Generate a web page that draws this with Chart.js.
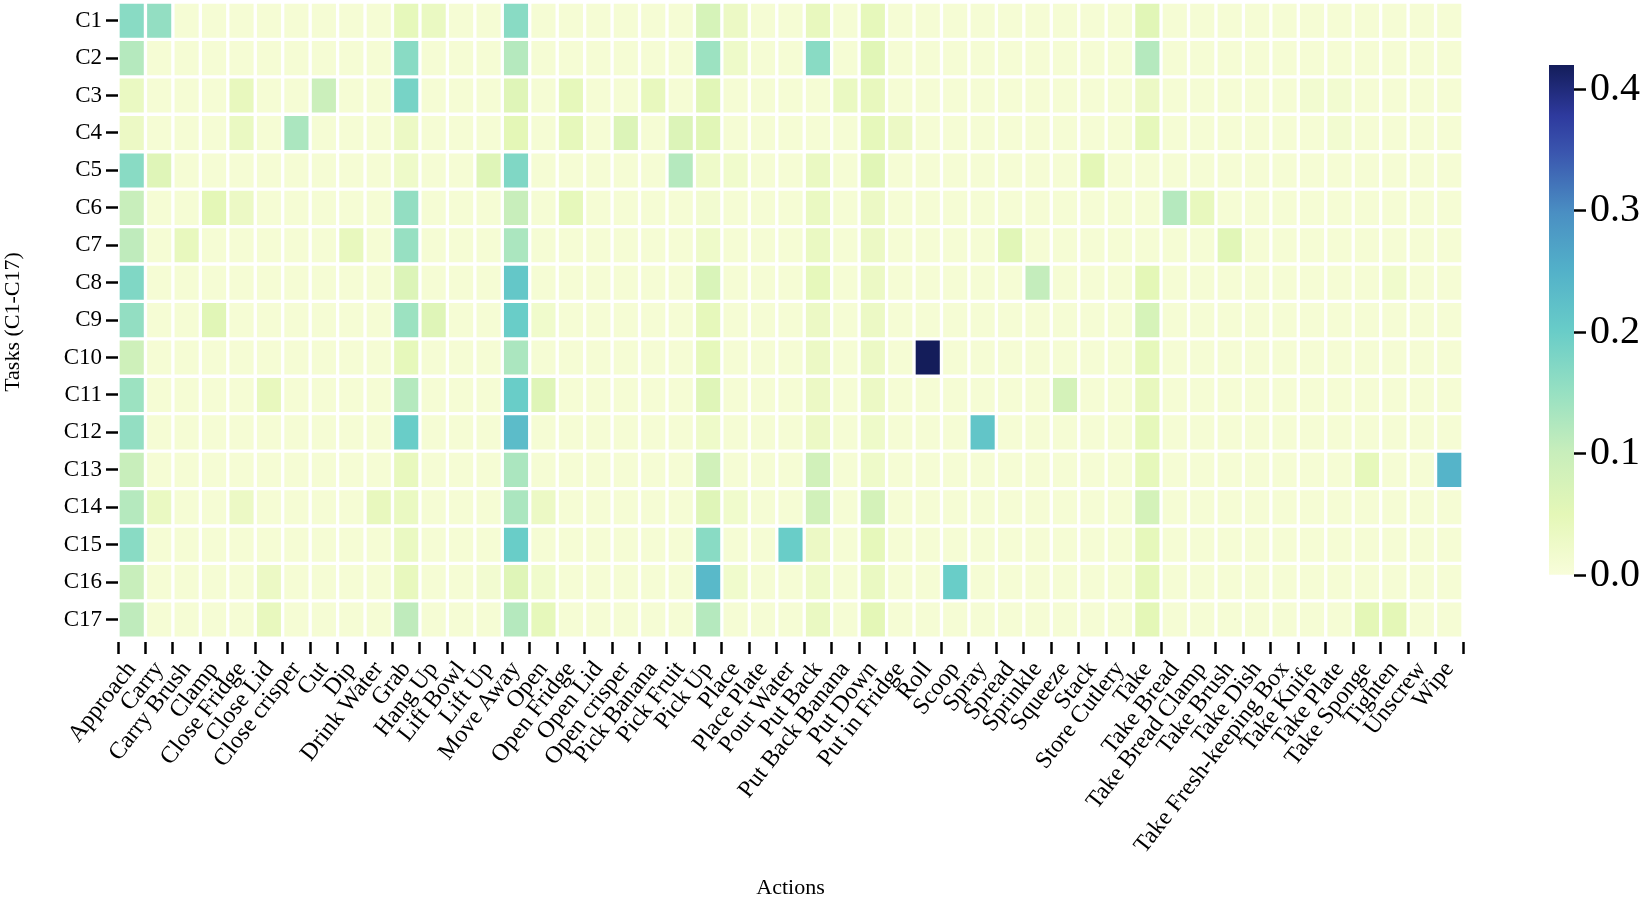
<!DOCTYPE html>
<html>
<head>
<meta charset="utf-8">
<title>Tasks vs Actions heatmap</title>
<script src="https://cdn.jsdelivr.net/npm/chart.js@4.4.1/dist/chart.umd.min.js"></script>
<style>
  html, body { margin: 0; padding: 0; background: #fff; }
  #wrap { position: relative; width: 1650px; height: 901px; }
  #heatmap { position: absolute; left: 0; top: 0; }
  #colorbar { position: absolute; left: 1500px; top: 0; }
</style>
</head>
<body>
<div id="wrap">
  <canvas id="heatmap" width="1650" height="901"></canvas>
  <canvas id="colorbar" width="150" height="901"></canvas>
</div>
<script>
// Data

const tasks = ['C1', 'C2', 'C3', 'C4', 'C5', 'C6', 'C7', 'C8', 'C9', 'C10',
  'C11', 'C12', 'C13', 'C14', 'C15', 'C16', 'C17'];

const actions = ['Approach', 'Carry', 'Carry Brush', 'Clamp', 'Close Fridge', 'Close Lid',
  'Close crisper', 'Cut', 'Dip', 'Drink Water', 'Grab', 'Hang Up', 'Lift Bowl', 'Lift Up',
  'Move Away', 'Open', 'Open Fridge', 'Open Lid', 'Open crisper', 'Pick Banana', 'Pick Fruit',
  'Pick Up', 'Place', 'Place Plate', 'Pour Water', 'Put Back', 'Put Back Banana', 'Put Down',
  'Put in Fridge', 'Roll', 'Scoop', 'Spray', 'Spread', 'Sprinkle', 'Squeeze', 'Stack',
  'Store Cutlery', 'Take', 'Take Bread', 'Take Bread Clamp', 'Take Brush', 'Take Dish',
  'Take Fresh-keeping Box', 'Take Knife', 'Take Plate', 'Take Sponge', 'Tighten', 'Unscrew', 'Wipe'];

// one row per task, one value per action
const cellValues = [
  // C1
  [0.165, 0.155, 0.008, 0.008, 0.008, 0.008, 0.008, 0.008, 0.008, 0.008,
   0.045, 0.035, 0.008, 0.008, 0.165, 0.008, 0.008, 0.008, 0.008, 0.008,
   0.008, 0.075, 0.03, 0.008, 0.008, 0.04, 0.008, 0.045, 0.008, 0.008,
   0.008, 0.008, 0.008, 0.008, 0.008, 0.008, 0.008, 0.055, 0.008, 0.008,
   0.008, 0.008, 0.008, 0.008, 0.008, 0.008, 0.008, 0.008, 0.008],
  // C2
  [0.12, 0.008, 0.008, 0.008, 0.008, 0.008, 0.008, 0.008, 0.008, 0.008,
   0.165, 0.008, 0.008, 0.008, 0.12, 0.008, 0.008, 0.008, 0.008, 0.008,
   0.008, 0.145, 0.025, 0.008, 0.008, 0.165, 0.008, 0.055, 0.008, 0.008,
   0.008, 0.008, 0.008, 0.008, 0.008, 0.008, 0.008, 0.12, 0.008, 0.008,
   0.008, 0.008, 0.008, 0.008, 0.008, 0.008, 0.008, 0.008, 0.008],
  // C3
  [0.035, 0.008, 0.008, 0.008, 0.04, 0.008, 0.008, 0.095, 0.008, 0.008,
   0.185, 0.008, 0.008, 0.008, 0.06, 0.008, 0.045, 0.008, 0.008, 0.04,
   0.008, 0.055, 0.008, 0.008, 0.008, 0.008, 0.035, 0.04, 0.008, 0.008,
   0.008, 0.008, 0.008, 0.008, 0.008, 0.008, 0.008, 0.03, 0.008, 0.008,
   0.008, 0.008, 0.008, 0.015, 0.015, 0.008, 0.008, 0.008, 0.008],
  // C4
  [0.03, 0.008, 0.008, 0.008, 0.035, 0.008, 0.13, 0.008, 0.008, 0.008,
   0.03, 0.008, 0.008, 0.008, 0.05, 0.008, 0.045, 0.008, 0.065, 0.008,
   0.065, 0.055, 0.008, 0.008, 0.008, 0.008, 0.008, 0.045, 0.03, 0.008,
   0.008, 0.008, 0.008, 0.008, 0.008, 0.008, 0.008, 0.045, 0.008, 0.008,
   0.008, 0.008, 0.008, 0.008, 0.015, 0.008, 0.008, 0.008, 0.008],
  // C5
  [0.165, 0.06, 0.008, 0.008, 0.008, 0.008, 0.008, 0.008, 0.008, 0.008,
   0.025, 0.008, 0.008, 0.06, 0.175, 0.008, 0.008, 0.008, 0.008, 0.008,
   0.12, 0.025, 0.02, 0.008, 0.008, 0.035, 0.008, 0.055, 0.008, 0.008,
   0.008, 0.008, 0.008, 0.008, 0.008, 0.05, 0.008, 0.008, 0.008, 0.008,
   0.008, 0.008, 0.008, 0.008, 0.008, 0.008, 0.008, 0.008, 0.008],
  // C6
  [0.1, 0.008, 0.008, 0.05, 0.03, 0.008, 0.008, 0.008, 0.008, 0.008,
   0.155, 0.008, 0.008, 0.008, 0.1, 0.008, 0.045, 0.008, 0.008, 0.008,
   0.008, 0.015, 0.008, 0.008, 0.008, 0.035, 0.008, 0.03, 0.008, 0.008,
   0.008, 0.008, 0.008, 0.008, 0.008, 0.008, 0.008, 0.008, 0.12, 0.04,
   0.008, 0.008, 0.008, 0.008, 0.008, 0.008, 0.008, 0.008, 0.008],
  // C7
  [0.11, 0.008, 0.04, 0.008, 0.008, 0.008, 0.008, 0.008, 0.04, 0.008,
   0.15, 0.008, 0.008, 0.008, 0.13, 0.008, 0.008, 0.008, 0.008, 0.008,
   0.008, 0.025, 0.008, 0.008, 0.008, 0.035, 0.008, 0.03, 0.008, 0.008,
   0.008, 0.008, 0.055, 0.008, 0.008, 0.008, 0.008, 0.008, 0.008, 0.008,
   0.055, 0.008, 0.008, 0.008, 0.008, 0.008, 0.008, 0.008, 0.008],
  // C8
  [0.175, 0.008, 0.008, 0.008, 0.008, 0.008, 0.008, 0.008, 0.008, 0.008,
   0.065, 0.008, 0.008, 0.008, 0.21, 0.008, 0.008, 0.008, 0.008, 0.008,
   0.008, 0.07, 0.008, 0.008, 0.008, 0.045, 0.008, 0.03, 0.008, 0.008,
   0.008, 0.008, 0.008, 0.105, 0.008, 0.008, 0.008, 0.05, 0.008, 0.008,
   0.008, 0.008, 0.008, 0.008, 0.008, 0.008, 0.02, 0.008, 0.008],
  // C9
  [0.155, 0.008, 0.008, 0.055, 0.008, 0.008, 0.008, 0.008, 0.008, 0.008,
   0.145, 0.06, 0.008, 0.008, 0.2, 0.02, 0.008, 0.008, 0.008, 0.008,
   0.008, 0.045, 0.008, 0.008, 0.008, 0.03, 0.008, 0.03, 0.008, 0.008,
   0.008, 0.008, 0.008, 0.008, 0.008, 0.008, 0.008, 0.075, 0.008, 0.008,
   0.008, 0.008, 0.008, 0.008, 0.008, 0.008, 0.008, 0.008, 0.008],
  // C10
  [0.09, 0.008, 0.008, 0.008, 0.008, 0.008, 0.008, 0.008, 0.008, 0.008,
   0.045, 0.008, 0.008, 0.008, 0.13, 0.008, 0.008, 0.008, 0.008, 0.008,
   0.008, 0.045, 0.008, 0.008, 0.008, 0.03, 0.008, 0.03, 0.008, 0.42,
   0.008, 0.008, 0.008, 0.008, 0.008, 0.008, 0.008, 0.045, 0.008, 0.008,
   0.008, 0.008, 0.008, 0.008, 0.008, 0.008, 0.008, 0.008, 0.008],
  // C11
  [0.145, 0.008, 0.008, 0.008, 0.008, 0.04, 0.008, 0.008, 0.008, 0.008,
   0.12, 0.008, 0.008, 0.008, 0.2, 0.06, 0.008, 0.008, 0.008, 0.008,
   0.008, 0.06, 0.008, 0.008, 0.008, 0.03, 0.008, 0.03, 0.008, 0.008,
   0.008, 0.008, 0.008, 0.008, 0.08, 0.008, 0.008, 0.04, 0.008, 0.008,
   0.008, 0.008, 0.008, 0.008, 0.008, 0.008, 0.008, 0.008, 0.008],
  // C12
  [0.155, 0.008, 0.008, 0.008, 0.008, 0.008, 0.008, 0.008, 0.008, 0.008,
   0.2, 0.008, 0.008, 0.008, 0.23, 0.008, 0.008, 0.008, 0.008, 0.008,
   0.008, 0.025, 0.008, 0.008, 0.008, 0.03, 0.008, 0.025, 0.008, 0.008,
   0.008, 0.215, 0.008, 0.008, 0.008, 0.008, 0.008, 0.045, 0.008, 0.008,
   0.008, 0.008, 0.008, 0.008, 0.008, 0.008, 0.008, 0.008, 0.008],
  // C13
  [0.1, 0.008, 0.008, 0.008, 0.008, 0.008, 0.008, 0.008, 0.008, 0.008,
   0.04, 0.008, 0.008, 0.008, 0.13, 0.008, 0.008, 0.008, 0.008, 0.008,
   0.008, 0.085, 0.008, 0.008, 0.008, 0.085, 0.008, 0.025, 0.008, 0.008,
   0.008, 0.008, 0.008, 0.008, 0.008, 0.008, 0.008, 0.045, 0.008, 0.008,
   0.008, 0.008, 0.008, 0.008, 0.008, 0.045, 0.008, 0.008, 0.245],
  // C14
  [0.12, 0.035, 0.008, 0.008, 0.03, 0.008, 0.008, 0.008, 0.008, 0.04,
   0.035, 0.008, 0.008, 0.008, 0.13, 0.03, 0.008, 0.008, 0.008, 0.008,
   0.008, 0.06, 0.02, 0.008, 0.008, 0.085, 0.008, 0.08, 0.008, 0.008,
   0.008, 0.008, 0.008, 0.008, 0.008, 0.008, 0.008, 0.08, 0.008, 0.008,
   0.008, 0.008, 0.008, 0.008, 0.008, 0.008, 0.008, 0.008, 0.008],
  // C15
  [0.165, 0.008, 0.008, 0.008, 0.008, 0.008, 0.008, 0.008, 0.008, 0.008,
   0.035, 0.008, 0.008, 0.008, 0.2, 0.008, 0.008, 0.008, 0.008, 0.008,
   0.008, 0.165, 0.008, 0.008, 0.2, 0.03, 0.008, 0.045, 0.008, 0.008,
   0.008, 0.008, 0.008, 0.008, 0.008, 0.008, 0.008, 0.045, 0.008, 0.008,
   0.008, 0.008, 0.008, 0.008, 0.008, 0.008, 0.008, 0.008, 0.008],
  // C16
  [0.1, 0.008, 0.008, 0.008, 0.008, 0.03, 0.008, 0.008, 0.008, 0.008,
   0.04, 0.008, 0.008, 0.015, 0.06, 0.02, 0.008, 0.008, 0.008, 0.008,
   0.008, 0.235, 0.02, 0.008, 0.008, 0.025, 0.008, 0.035, 0.008, 0.008,
   0.2, 0.008, 0.008, 0.008, 0.008, 0.008, 0.008, 0.045, 0.008, 0.008,
   0.008, 0.008, 0.008, 0.008, 0.008, 0.008, 0.008, 0.008, 0.008],
  // C17
  [0.11, 0.008, 0.008, 0.008, 0.008, 0.04, 0.008, 0.008, 0.008, 0.008,
   0.11, 0.008, 0.008, 0.008, 0.12, 0.045, 0.008, 0.008, 0.008, 0.008,
   0.008, 0.12, 0.008, 0.008, 0.008, 0.035, 0.008, 0.05, 0.008, 0.008,
   0.008, 0.008, 0.008, 0.008, 0.008, 0.008, 0.008, 0.05, 0.008, 0.008,
   0.008, 0.008, 0.008, 0.008, 0.008, 0.05, 0.05, 0.008, 0.008]
];

const cbMax = 0.42;
const cbTicks = [0, 0.1, 0.2, 0.3, 0.4];

// YlGnBu-like colour stops, tuned to the reference
const cmapStops = [
  [0.00, '#f8fdda'],
  [0.12, '#e4f7b7'],
  [0.24, '#c8eebb'],
  [0.36, '#96e0c2'],
  [0.48, '#68ccc8'],
  [0.60, '#52b0c9'],
  [0.71, '#4a8fc3'],
  [0.83, '#3a55ae'],
  [0.90, '#2e3a9e'],
  [1.00, '#141d5a']
];

function hexToRgb(h) {
  const n = parseInt(h.slice(1), 16);
  return [(n >> 16) & 255, (n >> 8) & 255, n & 255];
}

function colorFor(v) {
  const t = Math.max(0, Math.min(1, v / cbMax));
  for (let i = 1; i < cmapStops.length; i++) {
    const [t1, c1] = cmapStops[i];
    if (t <= t1) {
      const [t0, c0] = cmapStops[i - 1];
      const f = (t - t0) / (t1 - t0);
      const a = hexToRgb(c0), b = hexToRgb(c1);
      const rgb = a.map((x, k) => Math.round(x + (b[k] - x) * f));
      return `rgb(${rgb[0]},${rgb[1]},${rgb[2]})`;
    }
  }
  return cmapStops[cmapStops.length - 1][1];
}

Chart.defaults.font.family = "'Liberation Serif', 'DejaVu Serif', serif";
Chart.defaults.color = '#000';

// tick labels must not push the cell area in from the edges
function noLabelPadding(axis) {
  axis.paddingTop = 0;
  axis.paddingBottom = 0;
  axis.paddingLeft = 0;
  axis.paddingRight = 0;
}

function renderHeatmap() {
  const ctx = document.getElementById('heatmap').getContext('2d');
  return new Chart(ctx, {
    type: 'bar',
    data: {
      labels: actions,
      datasets: tasks.map((task, r) => ({
        label: task,
        data: actions.map(() => [r - 0.5, r + 0.5]),
        backgroundColor: cellValues[r].map(colorFor),
        borderColor: '#ffffff',
        borderWidth: 2,
        borderSkipped: false,
        grouped: false,
        barPercentage: 1,
        categoryPercentage: 1
      }))
    },
    options: {
      responsive: false,
      animation: false,
      devicePixelRatio: 1,
      layout: { padding: { left: 0, right: 187, top: 2, bottom: 0 } },
      plugins: { legend: { display: false }, tooltip: { enabled: false } },
      scales: {
        x: {
          type: 'category',
          offset: true,
          grid: { display: true, drawOnChartArea: false, tickLength: 12, tickWidth: 2.5, tickColor: '#000' },
          border: { display: false },
          ticks: { autoSkip: false, maxRotation: 52, minRotation: 52, padding: 2, font: { size: 24 } },
          title: { display: true, text: 'Actions', font: { size: 22 }, padding: 0 },
          afterFit: (axis) => { axis.height = 259; noLabelPadding(axis); }
        },
        y: {
          type: 'linear',
          reverse: true,
          min: -0.5,
          max: 16.6,
          afterBuildTicks: (axis) => { axis.ticks = tasks.map((t, i) => ({ value: i })); },
          grid: { display: true, drawOnChartArea: false, tickLength: 12, tickWidth: 2.5, tickColor: '#000' },
          border: { display: false },
          ticks: { callback: (v) => tasks[v], padding: 4, font: { size: 23 } },
          title: { display: true, text: 'Tasks (C1-C17)', font: { size: 22 }, padding: 0 },
          afterFit: (axis) => { axis.width = 118; noLabelPadding(axis); }
        }
      }
    }
  });
}

function renderColorbar() {
  const ctx = document.getElementById('colorbar').getContext('2d');
  return new Chart(ctx, {
    type: 'bar',
    data: {
      labels: [''],
      datasets: [{
        data: [[0, cbMax]],
        backgroundColor: (c) => {
          const area = c.chart.chartArea;
          if (!area) return null;
          const g = c.chart.ctx.createLinearGradient(0, area.bottom, 0, area.top);
          cmapStops.forEach(([t, col]) => g.addColorStop(t, col));
          return g;
        },
        borderWidth: 0,
        barPercentage: 1,
        categoryPercentage: 1
      }]
    },
    options: {
      responsive: false,
      animation: false,
      devicePixelRatio: 1,
      layout: { padding: { left: 49, right: 0, top: 65, bottom: 326 } },
      plugins: { legend: { display: false }, tooltip: { enabled: false } },
      scales: {
        x: { display: false },
        y: {
          position: 'right',
          min: 0,
          max: cbMax,
          afterBuildTicks: (axis) => { axis.ticks = cbTicks.map(v => ({ value: v })); },
          grid: { display: true, drawOnChartArea: false, tickLength: 12, tickWidth: 2.5, tickColor: '#000' },
          border: { display: false },
          ticks: { callback: (v) => v.toFixed(1), padding: 4, font: { size: 40 } },
          afterFit: (axis) => { axis.width = 76; noLabelPadding(axis); }
        }
      }
    }
  });
}

renderHeatmap();
renderColorbar();
</script>
</body>
</html>
